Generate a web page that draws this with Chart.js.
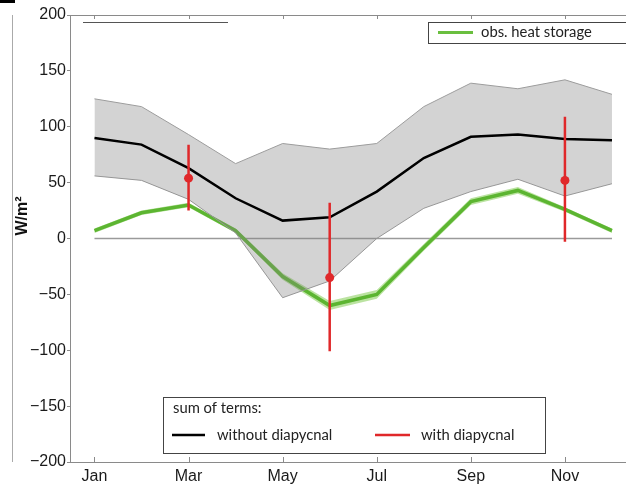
<!DOCTYPE html>
<html>
<head>
<meta charset="utf-8">
<script src="https://cdn.jsdelivr.net/npm/chart.js@4.4.1/dist/chart.umd.min.js"></script>
<style>
  html, body { margin: 0; padding: 0; background: #fff; overflow: hidden; }
  #wrap { width: 640px; height: 486px; }
</style>
</head>
<body>
<div id="wrap"><canvas id="chart" width="640" height="486"></canvas></div>
<script>
// months as numbers, Jan = 1
const months = [1, 2, 3, 4, 5, 6, 7, 8, 9, 10, 11, 12];
const tickMonths = [1, 3, 5, 7, 9, 11];
const tickLabels = ['Jan', 'Mar', 'May', 'Jul', 'Sep', 'Nov'];
const yTicks = [-200, -150, -100, -50, 0, 50, 100, 150, 200];

// sum of terms without diapycnal (black) and its spread (grey band)
const withoutDia   = [90, 84, 63, 36, 16, 19, 42, 72, 91, 93, 89, 88];
const withoutUpper = [125, 118, 93, 67, 85, 80, 85, 118, 139, 134, 142, 129];
const withoutLower = [56, 52, 35, 5, -53, -38, 0, 27, 42, 53, 38, 49];

// observed heat storage (green) and its band
const heatStorage = [7, 23, 30, 7, -34, -60, -50, -8, 33, 43, 26, 7];
const heatUpper   = [9, 25, 32, 9, -31, -56, -46, -5, 36, 46, 28, 9];
const heatLower   = [5, 21, 28, 5, -37, -64, -54, -11, 30, 40, 24, 5];

// sum of terms with diapycnal (red dots + error bars)
const errMonths   = [3, 6, 11];
const withDia     = [54, -35, 52];
const withDiaLow  = [25, -101, -3];
const withDiaHigh = [84, 32, 109];

const zeroLine = [0, 0];
const zeroMonths = [1, 12];

const axisGrey = '#8a8a8a';
const red = '#e0282a';
const green = '#5cb531';
const legendFont = '14.8px Lato, "Open Sans", sans-serif';

function toXY(xs, ys) {
  return xs.map((x, i) => ({ x: x, y: ys[i] }));
}

const errSegments = [];
errMonths.forEach((m, i) => {
  errSegments.push({ x: m, y: withDiaLow[i] }, { x: m, y: withDiaHigh[i] }, { x: m, y: null });
});

function seg(ctx, x1, y1, x2, y2) {
  ctx.beginPath();
  ctx.moveTo(x1, y1);
  ctx.lineTo(x2, y2);
  ctx.stroke();
}

const decor = {
  id: 'decor',
  afterDraw(chart) {
    const { ctx, chartArea: a, scales: { x } } = chart;
    ctx.save();
    ctx.strokeStyle = axisGrey;
    ctx.lineWidth = 1;
    // top frame + inward ticks on top and bottom
    seg(ctx, a.left, a.top + 0.5, chart.width, a.top + 0.5);
    tickMonths.forEach(m => {
      const px = Math.round(x.getPixelForValue(m)) + 0.5;
      seg(ctx, px, a.top, px, a.top + 4);
      seg(ctx, px, a.bottom, px, a.bottom - 5);
    });

    // leftover bits of the neighbouring panel
    ctx.strokeStyle = '#aaa';
    seg(ctx, 12.5, 15, 12.5, 462);
    ctx.strokeStyle = '#555';
    seg(ctx, 83, 22.5, 228, 22.5);
    ctx.fillStyle = '#000';
    ctx.fillRect(0, 0, 15, 3);

    // y title
    ctx.save();
    ctx.translate(23, 216);
    ctx.rotate(-Math.PI / 2);
    ctx.font = 'bold 16px "Liberation Sans", Arial, sans-serif';
    ctx.fillStyle = '#111';
    ctx.textAlign = 'center';
    ctx.textBaseline = 'middle';
    ctx.fillText('W/m\u00b2', 0, 0);
    ctx.restore();

    ctx.font = legendFont;
    ctx.textBaseline = 'middle';
    ctx.textAlign = 'left';

    // top legend
    ctx.fillStyle = '#fff';
    ctx.fillRect(428.5, 22.5, 300, 21);
    ctx.strokeStyle = '#444';
    ctx.strokeRect(428.5, 22.5, 300, 21);
    ctx.strokeStyle = '#6abf3f';
    ctx.lineWidth = 3;
    seg(ctx, 438, 32.5, 473, 32.5);
    ctx.fillStyle = '#222';
    ctx.fillText('obs. heat storage', 481, 32.5);

    // bottom legend
    ctx.lineWidth = 1;
    ctx.fillStyle = '#fff';
    ctx.fillRect(163.5, 397.5, 382, 56);
    ctx.strokeStyle = '#444';
    ctx.strokeRect(163.5, 397.5, 382, 56);
    ctx.fillStyle = '#222';
    ctx.fillText('sum of terms:', 173, 408);
    ctx.lineWidth = 2.5;
    ctx.strokeStyle = '#000';
    seg(ctx, 172, 435, 205, 435);
    ctx.fillText('without diapycnal', 217, 435);
    ctx.strokeStyle = red;
    seg(ctx, 375, 435, 410, 435);
    ctx.fillText('with diapycnal', 421, 435);
    ctx.restore();
  }
};

new Chart(document.getElementById('chart'), {
  type: 'line',
  data: {
    datasets: [
      { label: 'zero', data: toXY(zeroMonths, zeroLine), borderColor: '#9a9a9a', borderWidth: 1.5, order: 9 },
      { label: 'heat lower', data: toXY(months, heatLower), borderWidth: 0, borderColor: 'rgba(0,0,0,0)', order: 8 },
      { label: 'heat upper', data: toXY(months, heatUpper), borderWidth: 0, borderColor: 'rgba(0,0,0,0)',
        fill: '-1', backgroundColor: 'rgba(150,212,110,0.65)', order: 7 },
      { label: 'obs. heat storage', data: toXY(months, heatStorage), borderColor: green, borderWidth: 3.5, order: 6 },
      { label: 'spread lower', data: toXY(months, withoutLower), borderColor: '#9c9c9c', borderWidth: 1, order: 5 },
      { label: 'spread upper', data: toXY(months, withoutUpper), borderColor: '#9c9c9c', borderWidth: 1,
        fill: '-1', backgroundColor: 'rgba(128,128,128,0.35)', order: 4 },
      { label: 'without diapycnal', data: toXY(months, withoutDia), borderColor: '#000', borderWidth: 2.5, order: 3 },
      { label: 'with diapycnal range', data: errSegments, borderColor: red, borderWidth: 2.5, spanGaps: false, order: 2 },
      { label: 'with diapycnal', data: toXY(errMonths, withDia), showLine: false, pointRadius: 4.5,
        pointBackgroundColor: red, pointBorderWidth: 0, order: 1 }
    ]
  },
  options: {
    responsive: false,
    animation: false,
    layout: { padding: { left: 0, top: 15, right: 3, bottom: 0 } },
    plugins: { legend: { display: false }, tooltip: { enabled: false } },
    elements: { line: { tension: 0 }, point: { radius: 0 } },
    scales: {
      x: {
        type: 'linear', min: 0.48, max: 12.5,
        afterBuildTicks: s => { s.ticks = tickMonths.map(v => ({ value: v })); },
        afterFit: s => { s.height = 24; },
        ticks: {
          callback: v => tickLabels[tickMonths.indexOf(v)],
          font: { family: '"Liberation Sans", Arial, sans-serif', size: 16 },
          color: '#1a1a1a', padding: 5, maxRotation: 0, autoSkip: false
        },
        grid: { display: false, drawTicks: false },
        border: { display: true, color: axisGrey, width: 1 }
      },
      y: {
        min: -200, max: 200,
        afterBuildTicks: s => { s.ticks = yTicks.map(v => ({ value: v })); },
        afterFit: s => { s.width = 70; },
        ticks: {
          callback: v => v < 0 ? '\u2212' + Math.abs(v) : String(v),
          font: { family: '"Liberation Sans", Arial, sans-serif', size: 16 },
          color: '#1a1a1a', padding: 1
        },
        grid: { drawOnChartArea: false, tickLength: 3, color: axisGrey },
        border: { display: true, color: axisGrey, width: 1 }
      }
    }
  },
  plugins: [decor]
});
</script>
</body>
</html>
